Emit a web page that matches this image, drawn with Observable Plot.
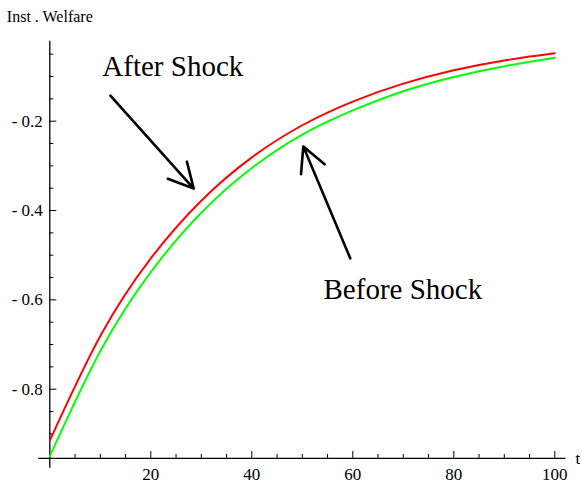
<!DOCTYPE html>
<html>
<head>
<meta charset="utf-8">
<script src="https://cdn.jsdelivr.net/npm/d3@7"></script>
<script src="https://cdn.jsdelivr.net/npm/@observablehq/plot@0.6"></script>
<style>
  html, body { margin: 0; padding: 0; background: #fff; }
  #chart svg { display: block; }
  g[aria-label="tick labels"] text { letter-spacing: -1px; }
  g[aria-label="axis titles"] text { letter-spacing: -0.8px; }
</style>
</head>
<body>
<div id="chart"></div>
<script>
// Instantaneous welfare over time, before and after the shock
const times = [0, 10, 20, 30, 40, 50, 60, 70, 80, 90, 100];
const afterShock = [-0.915, -0.681, -0.507, -0.378, -0.281, -0.209, -0.156, -0.116, -0.086, -0.064, -0.048];
const beforeShock = [-0.950, -0.715, -0.538, -0.405, -0.305, -0.230, -0.176, -0.133, -0.101, -0.077, -0.058];

// Axis ticks and labels
const xMajorTicks = [20, 40, 60, 80, 100];
const xMinorTicks = [5, 10, 15, 25, 30, 35, 45, 50, 55, 65, 70, 75, 85, 90, 95];
const yMajorTicks = [-0.2, -0.4, -0.6, -0.8];
const yMinorTicks = [-0.05, -0.1, -0.15, -0.25, -0.3, -0.35, -0.45, -0.5, -0.55, -0.65, -0.7, -0.75, -0.85, -0.9];
const yTickLabels = ["- 0.2", "- 0.4", "- 0.6", "- 0.8"];

// Axis placement (data units)
const axisY0 = -0.955;          // where the t axis crosses
const xAxisExtent = [-2.2, 102.2];
const yAxisExtent = [-0.977, -0.021];

// Annotations
const labelNames = ["After Shock", "Before Shock"];
const labelT = [10.4, 54.2];
const labelW = [-0.0775, -0.577];
const arrowFromT = [12.0, 59.5];
const arrowFromW = [-0.1425, -0.507];
const arrowToT = [28.5, 50.2];
const arrowToW = [-0.3507, -0.2566];

const W = 582, H = 487;
const mL = 49.3, mR = 27.7, mT = 31.36, mB = 8.96;
const xDom = [0, 100], yDom = [-1, 0];
// data units per pixel, for tick lengths
const dxPx = (xDom[1] - xDom[0]) / (W - mL - mR);
const dyPx = (yDom[1] - yDom[0]) / (H - mT - mB);

const curves = [
  ...times.map((t, i) => ({t, w: afterShock[i], s: "After Shock"})),
  ...times.map((t, i) => ({t, w: beforeShock[i], s: "Before Shock"}))
];
const labels = labelNames.map((name, i) => ({name, t: labelT[i], w: labelW[i]}));
const arrows = labelNames.map((name, i) => ({
  x1: arrowFromT[i], y1: arrowFromW[i], x2: arrowToT[i], y2: arrowToW[i]
}));

const chart = Plot.plot({
  width: W,
  height: H,
  marginLeft: mL,
  marginRight: mR,
  marginTop: mT,
  marginBottom: mB,
  x: {domain: xDom, axis: null},
  y: {domain: yDom, axis: null},
  style: {fontFamily: "'Liberation Serif', 'Times New Roman', serif", background: "#fff", color: "#000"},
  marks: [
    // axes lines
    Plot.ruleY([axisY0], {x1: xAxisExtent[0], x2: xAxisExtent[1], stroke: "#000", strokeWidth: 1.3}),
    Plot.ruleX([0], {y1: yAxisExtent[0], y2: yAxisExtent[1], stroke: "#000", strokeWidth: 1.3}),
    // x ticks (pointing up into the plot)
    Plot.ruleX(xMajorTicks, {y1: axisY0, y2: axisY0 + 7 * dyPx, stroke: "#000", strokeWidth: 1}),
    Plot.ruleX(xMinorTicks, {y1: axisY0, y2: axisY0 + 4 * dyPx, stroke: "#000", strokeWidth: 1}),
    // y ticks (pointing right into the plot)
    Plot.ruleY(yMajorTicks, {x1: 0, x2: 7 * dxPx, stroke: "#000", strokeWidth: 1}),
    Plot.ruleY(yMinorTicks, {x1: 0, x2: 4 * dxPx, stroke: "#000", strokeWidth: 1}),
    // tick labels
    Plot.text(xMajorTicks, {x: d => d, y: axisY0, dy: 16, text: d => String(d), fontSize: 17, ariaLabel: "tick labels"}),
    Plot.text(yMajorTicks, {x: 0, y: d => d, dx: -7, text: (d, i) => yTickLabels[i], textAnchor: "end", fontSize: 17, ariaLabel: "tick labels"}),
    // axis titles
    Plot.text(["Inst . Welfare"], {x: 0, y: yAxisExtent[1], dy: -24, text: d => d, fontSize: 16, ariaLabel: "axis titles"}),
    Plot.text(["t"], {x: xAxisExtent[1], y: axisY0, dx: 12, dy: 0, text: d => d, fontSize: 17, ariaLabel: "axis titles"}),
    // welfare curves
    Plot.line(curves, {x: "t", y: "w", z: "s", stroke: d => d.s === "After Shock" ? "#ff0000" : "#00ff00", curve: "natural", strokeWidth: 1.9}),
    // annotations
    Plot.arrow(arrows, {x1: "x1", y1: "y1", x2: "x2", y2: "y2", stroke: "#000", strokeWidth: 2.6, headLength: 16, headAngle: 55}),
    Plot.text(labels, {x: "t", y: "w", text: "name", textAnchor: "start", fontSize: 29, fill: "#000"})
  ]
});

document.getElementById("chart").appendChild(chart);
</script>
</body>
</html>
